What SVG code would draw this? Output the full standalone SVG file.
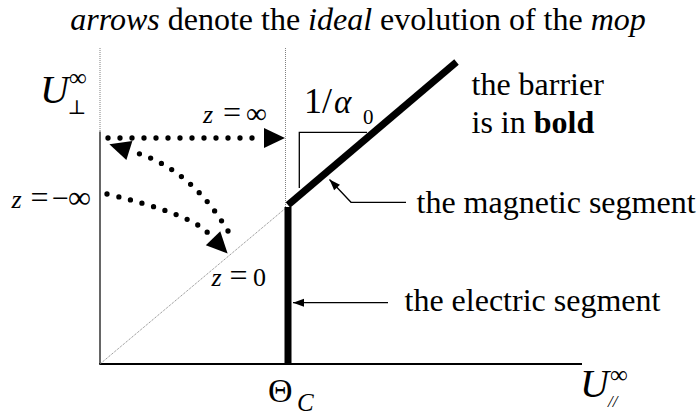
<svg xmlns="http://www.w3.org/2000/svg" width="699" height="415" viewBox="0 0 699 415">
<style>
.lbl{font-size:32px}
.it{font-style:italic}
.guide{stroke:#808080;stroke-width:1;stroke-dasharray:1 1;fill:none}
.dots{stroke:#000;stroke-width:5.3;stroke-linecap:round;stroke-dasharray:0 12;fill:none}
.thin{stroke:#000;stroke-width:1.3;fill:none}
</style>
<defs>
<marker id="bigHead" markerUnits="userSpaceOnUse" markerWidth="21" markerHeight="20" refX="-8" refY="10" orient="auto" overflow="visible">
<path d="M0,0 L21,10 L0,20 Z" fill="#000"/>
</marker>
<marker id="smallHead" markerUnits="userSpaceOnUse" markerWidth="11" markerHeight="8" refX="11" refY="4" orient="auto" overflow="visible">
<path d="M0,0 L11,4 L0,8 Z" fill="#000"/>
</marker>
</defs>
<rect width="699" height="415" fill="#fff"/>

<g font-family="Liberation Serif, Times New Roman, serif" fill="#000">
<g id="title">
<text class="lbl" x="358" y="30" text-anchor="middle"><tspan class="it">arrows</tspan> denote the <tspan class="it">ideal</tspan> evolution of the <tspan class="it">mop</tspan></text>
</g>

<g id="axes">
<line class="guide" x1="100" y1="48" x2="100" y2="132"/>
<line x1="100" y1="131.5" x2="100" y2="364" stroke="#333" stroke-width="1.5"/>
<line x1="99.3" y1="364" x2="582" y2="364" stroke="#000" stroke-width="2"/>
<line class="guide" x1="285.5" y1="48" x2="285.5" y2="207"/>
<line class="guide" x1="100" y1="364" x2="287" y2="207"/>
</g>

<g id="barrier">
<rect id="electric-segment" x="284.5" y="207" width="7" height="157.5" fill="#000"/>
<line id="magnetic-segment" x1="288" y1="205" x2="456.5" y2="62" stroke="#000" stroke-width="7"/>
</g>

<g id="slope-mark">
<polyline class="thin" points="299.3,188 299.3,132.3 367,132.3"/>
<text x="304" y="113" font-size="36">1/<tspan x="334" font-size="33" class="it">α</tspan><tspan x="363" y="124" font-size="21">0</tspan></text>
</g>

<g id="label-uperp">
<text x="40" y="103" font-size="40" class="it">U</text>
<text x="69" y="86" font-size="25">∞</text>
<text x="67.5" y="114" font-size="20" font-family="DejaVu Serif, serif">⊥</text>
</g>

<g id="label-upar">
<text x="580" y="397" font-size="40" class="it">U</text>
<text x="610" y="383" font-size="25">∞</text>
<text x="608" y="407" font-size="17" class="it">//</text>
</g>

<g id="label-theta">
<text x="268" y="402" font-size="34">Θ</text>
<text x="297" y="411" font-size="25" class="it">C</text>
</g>

<g id="label-zinf">
<text x="203" y="123" font-size="26" class="it">z</text>
<text x="223" y="123" font-size="32">=</text>
<text x="246" y="123" font-size="29">∞</text>
</g>

<g id="label-zminf">
<text x="11.5" y="208" font-size="26" class="it">z</text>
<text x="30.5" y="208" font-size="32">=</text>
<text x="52" y="208" font-size="30">−</text>
<text x="68" y="208" font-size="32">∞</text>
</g>

<g id="label-z0">
<text x="211.5" y="286" font-size="26" class="it">z</text>
<text x="229.5" y="286" font-size="32">=</text>
<text x="253" y="286" font-size="26">0</text>
</g>

<g id="note-barrier">
<text class="lbl" x="471.5" y="95">the barrier</text>
<text class="lbl" x="471.5" y="133">is in <tspan font-weight="bold">bold</tspan></text>
</g>

<g id="label-magnetic">
<text class="lbl" x="416.5" y="213">the magnetic segment</text>
</g>

<g id="label-electric">
<text class="lbl" x="404.5" y="311">the electric segment</text>
</g>
</g>

<g id="connectors">
<path class="dots" d="M108,138 H256" marker-end="url(#bigHead)"/>
<path class="dots" d="M228,231 Q191.6,170.3 137,153" marker-end="url(#bigHead)"/>
<path class="dots" d="M107,194 Q189.5,213.8 207.5,232.5" marker-end="url(#bigHead)"/>
<path class="thin" d="M406,202.3 H351 L329.5,179.5" marker-end="url(#smallHead)"/>
<path class="thin" d="M388,302.7 H293" marker-end="url(#smallHead)"/>
</g>
</svg>
